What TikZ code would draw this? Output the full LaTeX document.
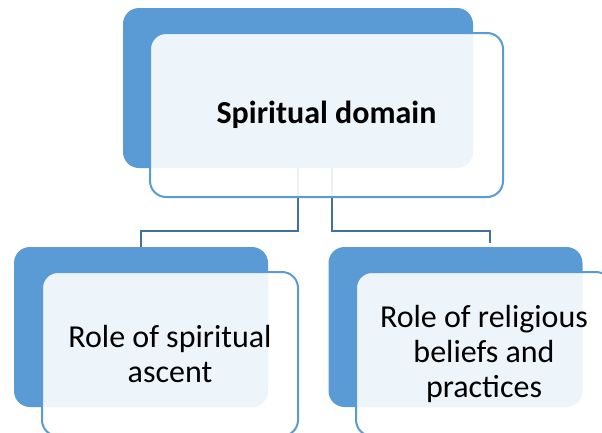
\documentclass[tikz,border=0pt]{standalone}
\usepackage{fontspec}
\setmainfont{Carlito}
\usepackage{xcolor}

\definecolor{accent}{HTML}{5B9BD5}
\definecolor{linkblue}{HTML}{41719C}

\tikzset{
	backbox/.style={draw=none, fill=accent, rounded corners=12pt, minimum height=120pt, inner sep=0pt},
	frontbox/.style={draw=accent, line width=1.5pt, fill=white, fill opacity=0.9, text opacity=1,
		rounded corners=12pt, minimum height=123pt, align=center, inner sep=0pt,
		font=\fontsize{24}{26}\selectfont},
	link/.style={draw=linkblue, line width=1.5pt}
}

\begin{document}
\begin{tikzpicture}[x=0.75pt,y=-0.75pt]
			%\draw[help lines] (0,0) grid (602,432);
			\clip (0,0) rectangle (602,432);
			
				% back boxes
				\node[backbox, minimum width=262.5pt] (domainback) at (298,88) {};
				\node[backbox, minimum width=190.5pt] (ascentback) at (141,327) {};
				\node[backbox, minimum width=190.5pt] (beliefsback) at (455.5,327) {};
				
				% connectors
				\coordinate (hubL) at (298,231);
				\coordinate (hubR) at (332,231);
				\coordinate (dropR) at (490,243);
				\draw[link] (domainback.south) -- (hubL) -| (ascentback.north);
				\draw[link] (332,168) -- (hubR) -| (dropR);
				
				% front boxes
				\node[frontbox, minimum width=264.75pt] (domain) at (326.5,115) {\textbf{Spiritual domain}};
				\node[frontbox, minimum width=192pt] (ascent) at (170,354) {Role of spiritual\\ascent};
				\node[frontbox, minimum width=192pt] (beliefs) at (484,354) {Role of religious\\beliefs and\\practices};
			
			\end{tikzpicture}
\end{document}
